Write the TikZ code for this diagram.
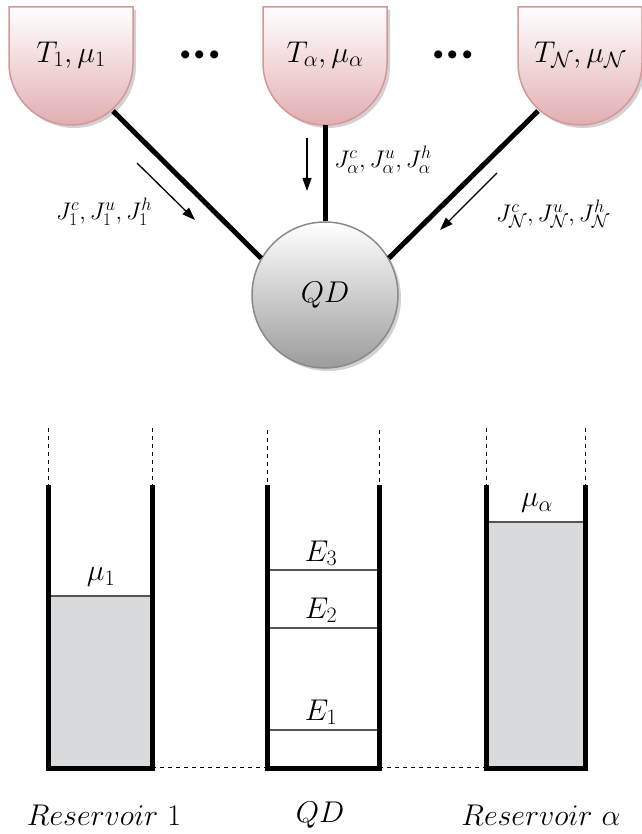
\RequirePackage{fix-cm}
\documentclass[tikz,border=0pt]{standalone}
\usepackage{fontspec}
\newfontfamily\dotfont{Carlito}
\usetikzlibrary{arrows.meta,shadows}
\DeclareMathSizes{24}{24}{18}{14}
\DeclareMathSizes{30}{30}{22}{17}

\definecolor{bathline}{HTML}{D4979A}
\definecolor{bathfill}{HTML}{E2AEB1}
\definecolor{ballline}{HTML}{8A8A8A}
\definecolor{ballfill}{HTML}{9C9C9C}
\definecolor{liquid}{HTML}{D9DADC}
\definecolor{levelline}{HTML}{555555}

\begin{document}
\begin{tikzpicture}[x=1pt,y=-1pt,
    bath/.style={draw=bathline,line width=1.5pt,top color=white,bottom color=bathfill,
      drop shadow={shadow xshift=3pt,shadow yshift=-3pt,fill=black!35,opacity=.5}},
    qdball/.style={circle,draw=ballline,line width=1.5pt,minimum size=146pt,inner sep=0pt,
      top color=white,bottom color=ballfill,font=\fontsize{30}{34}\selectfont,
      drop shadow={shadow xshift=3pt,shadow yshift=-3pt,fill=black!35,opacity=.5}},
    big/.style={inner sep=0pt,font=\fontsize{30}{34}\selectfont},
    small/.style={inner sep=0pt,font=\fontsize{24}{28}\selectfont},
    wire/.style={line width=5pt},
    flow/.style={line width=1.3pt,-{Triangle[length=13pt,width=9pt]}},
    wall/.style={line width=5pt,miter limit=10},
    guide/.style={line width=1pt,dash pattern=on 4pt off 4pt},
    level/.style={line width=1.3pt,draw=levelline}]

  \useasboundingbox (0,0) rectangle (641,834);

  % baths
  \foreach \cx/\nm/\lab in {71/t1/{T_1,\mu_1},325/ta/{T_\alpha,\mu_\alpha},580/tN/{T_{\mathcal N},\mu_{\mathcal N}}}{
    \path[bath] (\cx-62,7) -- (\cx+62,7) -- (\cx+62,63)
      arc[start angle=0,end angle=180,radius=62] -- cycle;
    \node[big] (\nm) at (\cx,55) {$\lab$};
  }
  \node[inner sep=0pt,font=\fontsize{54}{60}\selectfont] (dots1) at (200,55) {\dotfont\bfseries ...};
  \node[inner sep=0pt,font=\fontsize{54}{60}\selectfont] (dots2) at (453,55) {\dotfont\bfseries ...};

  % quantum dot
  \node[qdball] (qd) at (325,295) {$QD$};

  \coordinate (b1) at (113,111);
  \coordinate (ba) at (325,125);
  \coordinate (bN) at (538,111);
  \draw[wire] (b1) -- (qd.150);
  \draw[wire] (ba) -- (qd.north);
  \draw[wire] (bN) -- (qd.30);

  % currents
  \coordinate (f1s) at (137,163); \coordinate (f1e) at (195,220);
  \coordinate (fas) at (307,138); \coordinate (fae) at (307,191);
  \coordinate (fNs) at (497,173); \coordinate (fNe) at (440,230);
  \draw[flow] (f1s) -- (f1e);
  \draw[flow] (fas) -- (fae);
  \draw[flow] (fNs) -- (fNe);
  \node[small] (j1) at (104,212) {$J_1^c,J_1^u,J_1^h$};
  \node[small] (ja) at (383,160) {$J_\alpha^c,J_\alpha^u,J_\alpha^h$};
  \node[small] (jN) at (553,214) {$J_{\mathcal N}^c,J_{\mathcal N}^u,J_{\mathcal N}^h$};

  % reservoir 1
  \fill[liquid] (48,596) rectangle (152,768);
  \draw[level] (48,596) -- (152,596);
  \draw[guide] (48,428) -- (48,485);
  \draw[guide] (152,428) -- (152,485);
  \draw[wall] (48,485) |- (152,768) -- (152,485);
  \node[big] (mu1) at (101,577) {$\mu_1$};

  % dot levels
  \draw[level] (267,570) -- (379,570);
  \draw[level] (267,628) -- (379,628);
  \draw[level] (267,730) -- (379,730);
  \draw[guide] (267,430) -- (267,485);
  \draw[guide] (379,430) -- (379,485);
  \draw[wall] (267,485) |- (379,768) -- (379,485);
  \node[big] (e3) at (321,553) {$E_3$};
  \node[big] (e2) at (321,610) {$E_2$};
  \node[big] (e1) at (321,712) {$E_1$};

  % reservoir alpha
  \fill[liquid] (486,522) rectangle (585,768);
  \draw[level] (486,522) -- (585,522);
  \draw[guide] (486,428) -- (486,485);
  \draw[guide] (585,428) -- (585,485);
  \draw[wall] (486,485) |- (585,768) -- (585,485);
  \node[big] (mua) at (537,503) {$\mu_\alpha$};

  \draw[guide] (152,767) -- (267,767);
  \draw[guide] (379,767) -- (486,767);

  \node[big] (r1) at (104,815) {$Reservoir\ 1$};
  \node[big] (rq) at (320,815) {$QD$};
  \node[big] (ra) at (541,815) {$Reservoir\ \alpha$};

\end{tikzpicture}
\end{document}
